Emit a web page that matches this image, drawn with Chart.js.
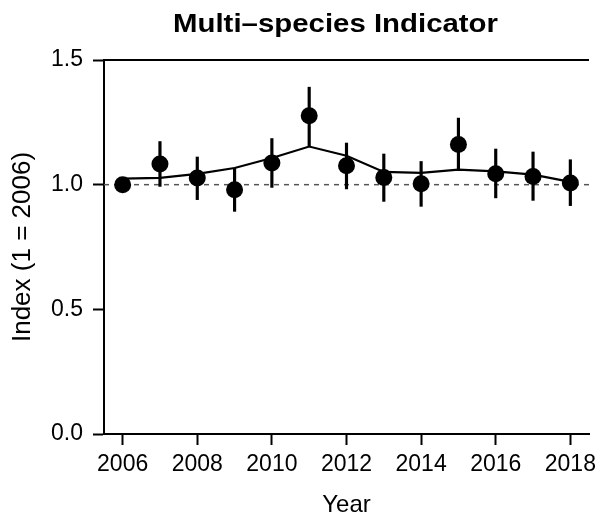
<!DOCTYPE html>
<html>
<head>
<meta charset="utf-8">
<script src="https://cdn.jsdelivr.net/npm/chart.js@4/dist/chart.umd.min.js"></script>
<style>
  html, body { margin: 0; padding: 0; background: #ffffff; }
  #wrap { width: 598px; height: 517px; }
</style>
</head>
<body>
<div id="wrap"><canvas id="c" width="598" height="517"></canvas></div>
<script>
// ---- data ----
const titleText = 'Multi\u2013species Indicator';
const xTitle = 'Year';
const yTitle = 'Index (1 = 2006)';

const years  = [2006, 2007, 2008, 2009, 2010, 2011, 2012, 2013, 2014, 2015, 2016, 2017, 2018];
const index  = [1.000, 1.083, 1.027, 0.980, 1.087, 1.276, 1.076, 1.029, 1.004, 1.161, 1.044, 1.033, 1.007];
const lower  = [null, 0.993, 0.940, 0.893, 0.989, 1.155, 0.983, 0.933, 0.913, 1.060, 0.947, 0.937, 0.916];
const upper  = [null, 1.173, 1.111, 1.067, 1.185, 1.391, 1.167, 1.123, 1.093, 1.267, 1.143, 1.131, 1.100];
const smooth = [1.024, 1.027, 1.043, 1.067, 1.107, 1.153, 1.116, 1.051, 1.047, 1.060, 1.053, 1.040, 1.011];

const xTicks = [2006, 2008, 2010, 2012, 2014, 2016, 2018];
const xTickLabels = ['2006', '2008', '2010', '2012', '2014', '2016', '2018'];
const yTicks = [0, 0.5, 1.0, 1.5];
const yTickLabels = ['0.0', '0.5', '1.0', '1.5'];
const refValue = 1.0;
const xMin = 2005.5, xMax = 2018.5, yMin = 0, yMax = 1.5;

// ---- plugins ----
const FONT = '"Liberation Sans", Arial, Helvetica, sans-serif';

const topLinePlugin = {
  id: 'topLine',
  afterDraw(chart) {
    const { ctx, scales } = chart;
    const y = scales.y.getPixelForValue(yMax);
    ctx.save();
    ctx.strokeStyle = '#000';
    ctx.lineWidth = 2;
    ctx.beginPath();
    ctx.moveTo(scales.x.left, y);
    ctx.lineTo(scales.x.right, y);
    ctx.stroke();
    ctx.restore();
  }
};

const titlePlugin = {
  id: 'rTitle',
  afterDraw(chart) {
    const { ctx } = chart;
    ctx.save();
    ctx.font = 'bold 26px ' + FONT;
    const w = ctx.measureText(titleText).width;
    const targetW = 325;
    ctx.translate(335.5, 32);
    ctx.scale(targetW / w, 1);
    ctx.textAlign = 'center';
    ctx.textBaseline = 'alphabetic';
    ctx.fillStyle = '#000';
    ctx.fillText(titleText, 0, 0);
    ctx.restore();
  }
};

// ---- chart ----
const ctx = document.getElementById('c').getContext('2d');
new Chart(ctx, {
  type: 'scatter',
  data: {
    datasets: [
      {
        type: 'scatter',
        label: 'Index',
        data: years.map((y, i) => ({ x: y, y: index[i] })),
        pointRadius: 8.5,
        pointHoverRadius: 8.5,
        pointBackgroundColor: '#000',
        pointBorderColor: '#000',
        pointBorderWidth: 0,
        order: 0
      },
      {
        type: 'bar',
        label: 'Error',
        data: years.map((y, i) => ({ x: y, y: lower[i] === null ? null : [lower[i], upper[i]] })),
        backgroundColor: '#000',
        borderWidth: 0,
        barThickness: 2.5,
        grouped: false,
        order: 1
      },
      {
        type: 'line',
        label: 'Smoothed',
        data: years.map((y, i) => ({ x: y, y: smooth[i] })),
        borderColor: '#000',
        borderWidth: 2.2,
        pointRadius: 0,
        tension: 0,
        fill: false,
        order: 2
      },
      {
        type: 'line',
        label: 'Reference',
        data: [{ x: xMin, y: refValue }, { x: xMax, y: refValue }],
        borderColor: '#555',
        borderWidth: 1.5,
        borderDash: [5, 5],
        pointRadius: 0,
        fill: false,
        order: 3
      }
    ]
  },
  options: {
    responsive: false,
    devicePixelRatio: 1,
    animation: false,
    layout: { padding: { top: 60, right: 9, bottom: 0, left: 0 } },
    plugins: {
      legend: { display: false },
      tooltip: { enabled: false },
      title: { display: false }
    },
    scales: {
      x: {
        type: 'linear',
        min: xMin,
        max: xMax,
        offset: false,
        afterBuildTicks: (scale) => { scale.ticks = xTicks.map(v => ({ value: v })); },
        afterFit: (scale) => {
          scale.height = 83;
          scale.paddingLeft = 0;
          scale.paddingRight = 0;
        },
        ticks: {
          autoSkip: false,
          maxRotation: 0,
          padding: 6,
          color: '#000',
          font: { family: FONT, size: 23 },
          callback: (v, i) => xTickLabels[i]
        },
        grid: {
          display: true,
          offset: false,
          drawOnChartArea: false,
          drawTicks: true,
          tickLength: 11,
          tickColor: '#000',
          tickWidth: 2
        },
        border: { display: true, color: '#000', width: 2 },
        title: {
          display: true,
          text: xTitle,
          color: '#000',
          font: { family: FONT, size: 24 },
          padding: { top: 0, bottom: -3 }
        }
      },
      y: {
        type: 'linear',
        min: yMin,
        max: yMax,
        afterBuildTicks: (scale) => { scale.ticks = yTicks.map(v => ({ value: v })); },
        afterFit: (scale) => {
          scale.width = 104;
          scale.paddingTop = 0;
          scale.paddingBottom = 0;
        },
        ticks: {
          autoSkip: false,
          padding: 10,
          color: '#000',
          font: { family: FONT, size: 23 },
          callback: (v, i) => yTickLabels[i]
        },
        grid: {
          display: true,
          drawOnChartArea: false,
          drawTicks: true,
          tickLength: 11,
          tickColor: '#000',
          tickWidth: 2
        },
        border: { display: true, color: '#000', width: 2 },
        title: {
          display: true,
          text: yTitle,
          color: '#000',
          font: { family: FONT, size: 26 },
          padding: { top: 7, bottom: 0 }
        }
      }
    }
  },
  plugins: [topLinePlugin, titlePlugin]
});
</script>
</body>
</html>
